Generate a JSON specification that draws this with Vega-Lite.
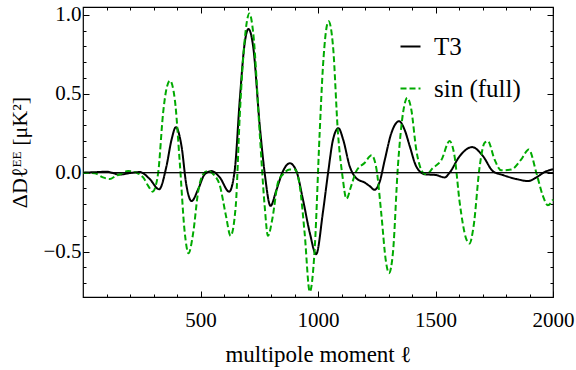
{
  "$schema": "https://vega.github.io/schema/vega-lite/v6.json",
  "width": 470,
  "height": 290,
  "autosize": "none",
  "padding": {"left": 83, "top": 7, "right": 23, "bottom": 73},
  "background": "white",
  "config": {
    "view": {"stroke": "black", "strokeWidth": 1.2},
    "font": "Liberation Serif",
    "axis": {"domain": false, "grid": false, "tickColor": "black", "tickWidth": 1, "labelColor": "black", "labelFont": "Liberation Serif", "labelFontSize": 21, "titleFont": "Liberation Serif", "titleFontSize": 23, "titleFontWeight": "normal", "titleColor": "black", "labelFlush": false, "labelOverlap": false},
    "legend": {"orient": "none", "legendX": 315, "legendY": 27, "title": null, "symbolType": "stroke", "symbolSize": 400, "symbolStrokeWidth": 2, "labelFont": "Liberation Serif", "labelFontSize": 25, "labelColor": "black", "rowPadding": 16, "labelOffset": 11, "padding": 0}
  },
  "datasets": {
    "curves": [
      {"l": 0, "v": 0, "series": "T3"},
      {"l": 50, "v": 0.003, "series": "T3"},
      {"l": 100, "v": 0.006, "series": "T3"},
      {"l": 157, "v": -0.012, "series": "T3"},
      {"l": 200, "v": -0.002, "series": "T3"},
      {"l": 242, "v": 0.004, "series": "T3"},
      {"l": 284, "v": -0.04, "series": "T3"},
      {"l": 324, "v": -0.105, "series": "T3"},
      {"l": 355, "v": 0.04, "series": "T3"},
      {"l": 377, "v": 0.21, "series": "T3"},
      {"l": 395, "v": 0.288, "series": "T3"},
      {"l": 419, "v": 0.17, "series": "T3"},
      {"l": 440, "v": -0.08, "series": "T3"},
      {"l": 462, "v": -0.18, "series": "T3"},
      {"l": 490, "v": -0.105, "series": "T3"},
      {"l": 518, "v": -0.01, "series": "T3"},
      {"l": 547, "v": 0.01, "series": "T3"},
      {"l": 582, "v": -0.03, "series": "T3"},
      {"l": 622, "v": -0.12, "series": "T3"},
      {"l": 646, "v": 0.02, "series": "T3"},
      {"l": 667, "v": 0.46, "series": "T3"},
      {"l": 688, "v": 0.82, "series": "T3"},
      {"l": 704, "v": 0.91, "series": "T3"},
      {"l": 724, "v": 0.8, "series": "T3"},
      {"l": 752, "v": 0.3, "series": "T3"},
      {"l": 773, "v": 0, "series": "T3"},
      {"l": 798, "v": -0.21, "series": "T3"},
      {"l": 823, "v": -0.11, "series": "T3"},
      {"l": 851, "v": 0.01, "series": "T3"},
      {"l": 880, "v": 0.06, "series": "T3"},
      {"l": 908, "v": 0.01, "series": "T3"},
      {"l": 936, "v": -0.17, "series": "T3"},
      {"l": 965, "v": -0.38, "series": "T3"},
      {"l": 992, "v": -0.516, "series": "T3"},
      {"l": 1021, "v": -0.25, "series": "T3"},
      {"l": 1043, "v": 0, "series": "T3"},
      {"l": 1064, "v": 0.21, "series": "T3"},
      {"l": 1087, "v": 0.282, "series": "T3"},
      {"l": 1107, "v": 0.21, "series": "T3"},
      {"l": 1135, "v": 0.04, "series": "T3"},
      {"l": 1163, "v": -0.035, "series": "T3"},
      {"l": 1199, "v": -0.063, "series": "T3"},
      {"l": 1220, "v": -0.085, "series": "T3"},
      {"l": 1241, "v": -0.108, "series": "T3"},
      {"l": 1262, "v": -0.06, "series": "T3"},
      {"l": 1284, "v": 0.08, "series": "T3"},
      {"l": 1312, "v": 0.25, "series": "T3"},
      {"l": 1345, "v": 0.326, "series": "T3"},
      {"l": 1369, "v": 0.27, "series": "T3"},
      {"l": 1390, "v": 0.17, "series": "T3"},
      {"l": 1418, "v": 0.04, "series": "T3"},
      {"l": 1454, "v": -0.01, "series": "T3"},
      {"l": 1503, "v": -0.015, "series": "T3"},
      {"l": 1539, "v": -0.03, "series": "T3"},
      {"l": 1560, "v": 0, "series": "T3"},
      {"l": 1603, "v": 0.105, "series": "T3"},
      {"l": 1656, "v": 0.162, "series": "T3"},
      {"l": 1702, "v": 0.105, "series": "T3"},
      {"l": 1744, "v": 0.01, "series": "T3"},
      {"l": 1787, "v": -0.015, "series": "T3"},
      {"l": 1844, "v": -0.04, "series": "T3"},
      {"l": 1893, "v": -0.053, "series": "T3"},
      {"l": 1929, "v": -0.03, "series": "T3"},
      {"l": 1964, "v": 0.004, "series": "T3"},
      {"l": 2000, "v": 0.022, "series": "T3"},
      {"l": 0, "v": 0, "series": "sin (full)"},
      {"l": 50, "v": -0.004, "series": "sin (full)"},
      {"l": 85, "v": -0.03, "series": "sin (full)"},
      {"l": 114, "v": -0.04, "series": "sin (full)"},
      {"l": 140, "v": -0.02, "series": "sin (full)"},
      {"l": 157, "v": -0.01, "series": "sin (full)"},
      {"l": 192, "v": 0.01, "series": "sin (full)"},
      {"l": 228, "v": 0, "series": "sin (full)"},
      {"l": 256, "v": -0.03, "series": "sin (full)"},
      {"l": 280, "v": -0.09, "series": "sin (full)"},
      {"l": 296, "v": -0.12, "series": "sin (full)"},
      {"l": 310, "v": -0.08, "series": "sin (full)"},
      {"l": 320, "v": 0, "series": "sin (full)"},
      {"l": 341, "v": 0.38, "series": "sin (full)"},
      {"l": 355, "v": 0.53, "series": "sin (full)"},
      {"l": 370, "v": 0.583, "series": "sin (full)"},
      {"l": 391, "v": 0.46, "series": "sin (full)"},
      {"l": 412, "v": 0.06, "series": "sin (full)"},
      {"l": 433, "v": -0.38, "series": "sin (full)"},
      {"l": 449, "v": -0.51, "series": "sin (full)"},
      {"l": 469, "v": -0.38, "series": "sin (full)"},
      {"l": 490, "v": -0.12, "series": "sin (full)"},
      {"l": 511, "v": -0.01, "series": "sin (full)"},
      {"l": 530, "v": 0.01, "series": "sin (full)"},
      {"l": 561, "v": -0.02, "series": "sin (full)"},
      {"l": 582, "v": -0.08, "series": "sin (full)"},
      {"l": 608, "v": -0.27, "series": "sin (full)"},
      {"l": 628, "v": -0.4, "series": "sin (full)"},
      {"l": 650, "v": -0.21, "series": "sin (full)"},
      {"l": 667, "v": 0.36, "series": "sin (full)"},
      {"l": 688, "v": 0.84, "series": "sin (full)"},
      {"l": 708, "v": 1.008, "series": "sin (full)"},
      {"l": 724, "v": 0.89, "series": "sin (full)"},
      {"l": 752, "v": 0.25, "series": "sin (full)"},
      {"l": 773, "v": -0.21, "series": "sin (full)"},
      {"l": 787, "v": -0.4, "series": "sin (full)"},
      {"l": 806, "v": -0.29, "series": "sin (full)"},
      {"l": 830, "v": -0.06, "series": "sin (full)"},
      {"l": 851, "v": -0.01, "series": "sin (full)"},
      {"l": 880, "v": 0.02, "series": "sin (full)"},
      {"l": 901, "v": 0.02, "series": "sin (full)"},
      {"l": 922, "v": -0.08, "series": "sin (full)"},
      {"l": 943, "v": -0.38, "series": "sin (full)"},
      {"l": 965, "v": -0.754, "series": "sin (full)"},
      {"l": 986, "v": -0.48, "series": "sin (full)"},
      {"l": 1007, "v": 0.25, "series": "sin (full)"},
      {"l": 1021, "v": 0.67, "series": "sin (full)"},
      {"l": 1045, "v": 0.958, "series": "sin (full)"},
      {"l": 1064, "v": 0.8, "series": "sin (full)"},
      {"l": 1085, "v": 0.25, "series": "sin (full)"},
      {"l": 1104, "v": -0.02, "series": "sin (full)"},
      {"l": 1121, "v": -0.165, "series": "sin (full)"},
      {"l": 1142, "v": -0.08, "series": "sin (full)"},
      {"l": 1163, "v": 0.01, "series": "sin (full)"},
      {"l": 1199, "v": 0.063, "series": "sin (full)"},
      {"l": 1228, "v": 0.11, "series": "sin (full)"},
      {"l": 1248, "v": 0.03, "series": "sin (full)"},
      {"l": 1270, "v": -0.27, "series": "sin (full)"},
      {"l": 1288, "v": -0.55, "series": "sin (full)"},
      {"l": 1302, "v": -0.636, "series": "sin (full)"},
      {"l": 1319, "v": -0.505, "series": "sin (full)"},
      {"l": 1340, "v": 0.04, "series": "sin (full)"},
      {"l": 1362, "v": 0.38, "series": "sin (full)"},
      {"l": 1380, "v": 0.474, "series": "sin (full)"},
      {"l": 1397, "v": 0.4, "series": "sin (full)"},
      {"l": 1418, "v": 0.147, "series": "sin (full)"},
      {"l": 1447, "v": 0, "series": "sin (full)"},
      {"l": 1461, "v": -0.01, "series": "sin (full)"},
      {"l": 1489, "v": 0.03, "series": "sin (full)"},
      {"l": 1525, "v": 0.08, "series": "sin (full)"},
      {"l": 1560, "v": 0.2, "series": "sin (full)"},
      {"l": 1581, "v": 0.105, "series": "sin (full)"},
      {"l": 1603, "v": -0.19, "series": "sin (full)"},
      {"l": 1631, "v": -0.42, "series": "sin (full)"},
      {"l": 1645, "v": -0.448, "series": "sin (full)"},
      {"l": 1662, "v": -0.34, "series": "sin (full)"},
      {"l": 1688, "v": 0.04, "series": "sin (full)"},
      {"l": 1709, "v": 0.19, "series": "sin (full)"},
      {"l": 1723, "v": 0.2, "series": "sin (full)"},
      {"l": 1751, "v": 0.084, "series": "sin (full)"},
      {"l": 1780, "v": 0.015, "series": "sin (full)"},
      {"l": 1822, "v": 0.02, "series": "sin (full)"},
      {"l": 1865, "v": 0.084, "series": "sin (full)"},
      {"l": 1897, "v": 0.147, "series": "sin (full)"},
      {"l": 1929, "v": 0, "series": "sin (full)"},
      {"l": 1957, "v": -0.147, "series": "sin (full)"},
      {"l": 1978, "v": -0.206, "series": "sin (full)"},
      {"l": 2000, "v": -0.17, "series": "sin (full)"}
    ],
    "zero": [{"level": 0}]
  },
  "layer": [
    {
      "data": {"name": "zero"},
      "mark": {"type": "rule", "color": "black", "strokeWidth": 1},
      "encoding": {
        "x": {"datum": 0, "type": "quantitative", "scale": {"domain": [0, 2000], "nice": false, "zero": false}, "axis": {"orient": "top", "values": [500, 1000, 1500, 2000], "labels": false, "tickSize": -6, "title": null}},
        "x2": {"datum": 2000},
        "y": {"field": "level", "type": "quantitative", "scale": {"domain": [-0.787, 1.049], "nice": false, "zero": false}, "axis": {"orient": "right", "values": [-0.5, 0, 0.5, 1], "labels": false, "tickSize": -6, "title": null}}
      }
    },
    {
      "data": {"name": "curves"},
      "transform": [{"filter": "datum.series === 'T3'"}],
      "mark": {"type": "line", "interpolate": "monotone", "strokeWidth": 2},
      "encoding": {
        "x": {"field": "l", "type": "quantitative", "axis": {"orient": "bottom", "values": [500, 1000, 1500, 2000], "format": "d", "tickSize": -6, "labelPadding": 18, "title": "multipole moment ℓ", "titlePadding": 13}},
        "y": {"field": "v", "type": "quantitative", "axis": {"orient": "left", "values": [-0.5, 0, 0.5, 1], "format": ".1f", "tickSize": -6, "labelPadding": 8, "title": "ΔDℓᴱᴱ [μK²]", "titleFontSize": 22, "titleX": -64, "titleY": 145, "titleBaseline": "middle", "titleAlign": "center", "titleAngle": -90}},
        "color": {"field": "series", "type": "nominal", "scale": {"domain": ["T3", "sin (full)"], "range": ["black", "#00aa00"]}},
        "strokeDash": {"field": "series", "type": "nominal", "scale": {"domain": ["T3", "sin (full)"], "range": [[1, 0], [6, 3]]}}
      }
    },
    {
      "data": {"name": "curves"},
      "transform": [{"filter": "datum.series === 'sin (full)'"}],
      "mark": {"type": "line", "interpolate": "monotone", "strokeWidth": 2},
      "encoding": {
        "x": {"field": "l", "type": "quantitative", "axis": {"orient": "bottom", "values": [100, 200, 300, 400, 600, 700, 800, 900, 1100, 1200, 1300, 1400, 1600, 1700, 1800, 1900], "labels": false, "tickSize": -3, "title": null}},
        "y": {"field": "v", "type": "quantitative", "axis": {"orient": "left", "values": [-0.7, -0.6, -0.4, -0.3, -0.2, -0.1, 0.1, 0.2, 0.3, 0.4, 0.6, 0.7, 0.8, 0.9], "labels": false, "tickSize": -3, "title": null}},
        "color": {"field": "series", "type": "nominal"},
        "strokeDash": {"field": "series", "type": "nominal"}
      }
    },
    {
      "data": {"name": "zero"},
      "mark": {"type": "rule", "color": "black", "strokeWidth": 1},
      "encoding": {
        "x": {"datum": 0, "type": "quantitative", "axis": {"orient": "top", "values": [100, 200, 300, 400, 600, 700, 800, 900, 1100, 1200, 1300, 1400, 1600, 1700, 1800, 1900], "labels": false, "tickSize": -3, "title": null}},
        "x2": {"datum": 2000},
        "y": {"field": "level", "type": "quantitative", "axis": {"orient": "right", "values": [-0.7, -0.6, -0.4, -0.3, -0.2, -0.1, 0.1, 0.2, 0.3, 0.4, 0.6, 0.7, 0.8, 0.9], "labels": false, "tickSize": -3, "title": null}}
      }
    }
  ],
  "resolve": {"axis": {"x": "independent", "y": "independent"}}
}
